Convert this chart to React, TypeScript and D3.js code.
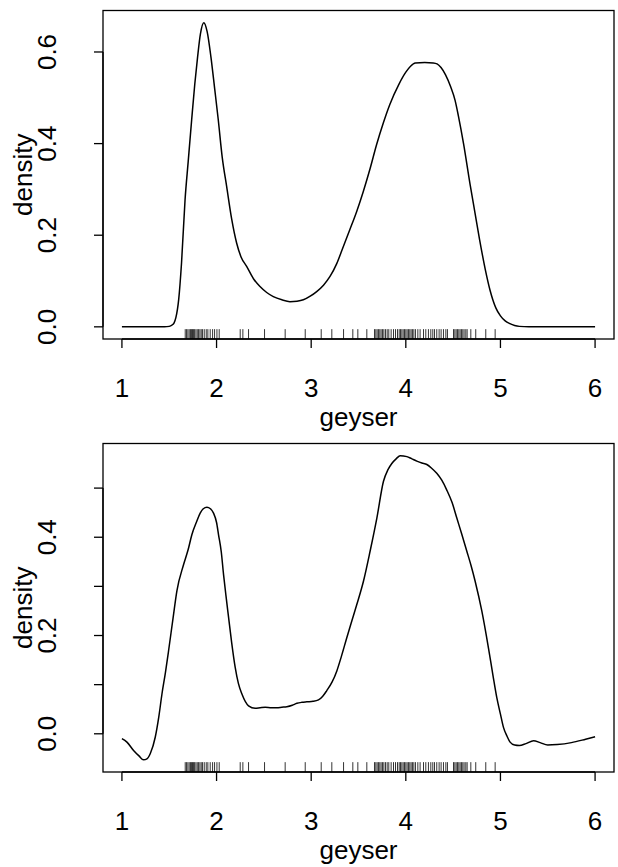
import React from "react";
import * as d3 from "d3";

// ---- data ----
const topX = [1.0, 1.3, 1.45, 1.5, 1.53, 1.55, 1.57, 1.6, 1.63, 1.667, 1.7, 1.737, 1.77, 1.8, 1.83, 1.865, 1.9, 1.94, 1.98, 2.018, 2.06, 2.107, 2.16, 2.212, 2.26, 2.318, 2.39, 2.459, 2.53, 2.6, 2.69, 2.776, 2.85, 2.917, 2.99, 3.058, 3.13, 3.199, 3.27, 3.339, 3.41, 3.481, 3.55, 3.622, 3.69, 3.762, 3.83, 3.928, 4.0, 4.05, 4.1, 4.2, 4.29, 4.33, 4.372, 4.42, 4.474, 4.52, 4.557, 4.61, 4.68, 4.73, 4.78, 4.84, 4.89, 4.95, 5.0, 5.05, 5.1, 5.15, 5.2, 5.3, 5.5, 6.0];
const topY = [0.0, 0.0, 0.0, 0.001, 0.004, 0.008, 0.02, 0.06, 0.14, 0.277, 0.36, 0.452, 0.53, 0.59, 0.64, 0.664, 0.645, 0.59, 0.52, 0.452, 0.37, 0.306, 0.235, 0.183, 0.152, 0.132, 0.105, 0.088, 0.075, 0.066, 0.059, 0.055, 0.056, 0.059, 0.067, 0.077, 0.091, 0.11, 0.138, 0.175, 0.213, 0.252, 0.295, 0.345, 0.397, 0.445, 0.485, 0.53, 0.556, 0.569, 0.576, 0.577, 0.576, 0.574, 0.566, 0.55, 0.524, 0.495, 0.459, 0.4, 0.31, 0.25, 0.19, 0.125, 0.08, 0.042, 0.024, 0.013, 0.007, 0.003, 0.001, 0.0, 0.0, 0.0];

const botX = [1.0, 1.053, 1.123, 1.18, 1.229, 1.264, 1.3, 1.352, 1.39, 1.423, 1.46, 1.493, 1.54, 1.581, 1.651, 1.7, 1.739, 1.79, 1.827, 1.86, 1.898, 1.935, 1.968, 2.0, 2.021, 2.05, 2.074, 2.1, 2.127, 2.16, 2.197, 2.23, 2.268, 2.338, 2.408, 2.46, 2.514, 2.58, 2.637, 2.69, 2.743, 2.8, 2.849, 2.9, 2.954, 3.02, 3.077, 3.12, 3.165, 3.22, 3.271, 3.32, 3.377, 3.43, 3.482, 3.553, 3.623, 3.694, 3.764, 3.81, 3.852, 3.9, 3.94, 4.011, 4.06, 4.116, 4.17, 4.222, 4.27, 4.327, 4.38, 4.433, 4.49, 4.539, 4.59, 4.644, 4.69, 4.732, 4.803, 4.873, 4.92, 4.961, 5.0, 5.032, 5.07, 5.102, 5.15, 5.2, 5.27, 5.35, 5.42, 5.5, 5.6, 5.75, 5.9, 6.0];
const botY = [-0.01, -0.017, -0.034, -0.045, -0.053, -0.051, -0.04, -0.007, 0.035, 0.081, 0.125, 0.169, 0.235, 0.291, 0.344, 0.375, 0.405, 0.432, 0.449, 0.458, 0.461, 0.458, 0.449, 0.43, 0.405, 0.37, 0.324, 0.28, 0.237, 0.185, 0.135, 0.103, 0.081, 0.057, 0.052, 0.053, 0.054, 0.053, 0.053, 0.054, 0.055, 0.058, 0.062, 0.064, 0.065, 0.066, 0.069, 0.076, 0.088, 0.105, 0.128, 0.158, 0.196, 0.23, 0.263, 0.311, 0.372, 0.439, 0.514, 0.537, 0.55, 0.56, 0.566, 0.564, 0.56, 0.555, 0.551, 0.548, 0.541, 0.53, 0.516, 0.496, 0.47, 0.439, 0.407, 0.372, 0.342, 0.311, 0.25, 0.175, 0.12, 0.074, 0.04, 0.013, -0.005, -0.017, -0.023, -0.024, -0.02, -0.014, -0.018, -0.023, -0.022, -0.018, -0.011, -0.006];

const rug = [1.669, 1.683, 1.697, 1.711, 1.725, 1.736, 1.746, 1.757, 1.768, 1.782, 1.796, 1.81, 1.824, 1.838, 1.852, 1.87, 1.891, 1.908, 1.933, 1.958, 1.979, 2.004, 2.028, 2.25, 2.278, 2.338, 2.507, 2.725, 2.937, 3.106, 3.218, 3.342, 3.44, 3.493, 3.588, 3.669, 3.683, 3.697, 3.711, 3.725, 3.739, 3.754, 3.768, 3.785, 3.803, 3.82, 3.845, 3.87, 3.891, 3.912, 3.93, 3.944, 3.958, 3.972, 3.986, 4.0, 4.014, 4.028, 4.042, 4.056, 4.07, 4.085, 4.102, 4.127, 4.151, 4.187, 4.211, 4.239, 4.264, 4.285, 4.303, 4.327, 4.352, 4.373, 4.398, 4.423, 4.44, 4.504, 4.518, 4.532, 4.546, 4.56, 4.574, 4.588, 4.602, 4.616, 4.634, 4.648, 4.687, 4.739, 4.845, 4.944];

const xTicks = [1, 2, 3, 4, 5, 6];
const topYTicks = [0.0, 0.2, 0.4, 0.6];
const topYLabels = ["0.0", "0.2", "0.4", "0.6"];
const botYTicks = [0.0, 0.1, 0.2, 0.3, 0.4, 0.5];
const botYLabels = ["0.0", "", "0.2", "", "0.4", ""];
const xLabel = "geyser";
const yLabel = "density";

const W = 618;
const H = 867;
const FONT = "'Liberation Sans', Arial, Helvetica, sans-serif";
const FS = 26;

type PanelProps = {
  xs: number[];
  ys: number[];
  top: number;
  yTicks: number[];
  yLabels: string[];
};

function Panel({ xs, ys, top, yTicks, yLabels }: PanelProps) {
  const left = 103;
  const right = 614;
  const boxTop = top + 10.5;
  const boxBottom = top + 339;
  const xr = d3.extent(xs) as [number, number];
  const xpad = (xr[1] - xr[0]) * 0.04;
  const x = d3.scaleLinear().domain([xr[0] - xpad, xr[1] + xpad]).range([left, right]);
  const yr = d3.extent(ys) as [number, number];
  const ypad = (yr[1] - yr[0]) * 0.04;
  const y = d3.scaleLinear().domain([yr[0] - ypad, yr[1] + ypad]).range([boxBottom, boxTop]);
  const pts: [number, number][] = xs.map((v, i) => [v, ys[i]]);
  const line = d3
    .line<[number, number]>()
    .x((d) => x(d[0]))
    .y((d) => y(d[1]))
    .curve(d3.curveMonotoneX);
  const tick = 9;
  const rugLen = (boxBottom - boxTop) * 0.03;
  const cy = (boxTop + boxBottom) / 2;
  return (
    <g>
      <rect x={left} y={boxTop} width={right - left} height={boxBottom - boxTop} fill="none" stroke="#000" strokeWidth={1.3} />
      <path d={line(pts) || ""} fill="none" stroke="#000" strokeWidth={1.5} />
      {rug.map((r, i) => (
        <line key={"r" + i} x1={x(r)} x2={x(r)} y1={boxBottom} y2={boxBottom - rugLen} stroke="#000" strokeWidth={0.8} />
      ))}
      <line x1={x(xTicks[0])} x2={x(xTicks[xTicks.length - 1])} y1={boxBottom} y2={boxBottom} stroke="#000" strokeWidth={1.3} />
      {xTicks.map((t) => (
        <g key={"x" + t}>
          <line x1={x(t)} x2={x(t)} y1={boxBottom} y2={boxBottom + tick} stroke="#000" strokeWidth={1.3} />
          <text x={x(t)} y={boxBottom + 58} textAnchor="middle" fontFamily={FONT} fontSize={FS}>
            {String(t)}
          </text>
        </g>
      ))}
      <text x={(left + right) / 2} y={boxBottom + 87} textAnchor="middle" fontFamily={FONT} fontSize={FS}>
        {xLabel}
      </text>
      <line x1={left} x2={left} y1={y(yTicks[0])} y2={y(yTicks[yTicks.length - 1])} stroke="#000" strokeWidth={1.3} />
      {yTicks.map((t, i) => (
        <g key={"y" + i}>
          <line x1={left} x2={left - tick} y1={y(t)} y2={y(t)} stroke="#000" strokeWidth={1.3} />
          {yLabels[i] ? (
            <text
              transform={`translate(${56},${y(t)}) rotate(-90)`}
              textAnchor="middle"
              fontFamily={FONT}
              fontSize={FS}
            >
              {yLabels[i]}
            </text>
          ) : null}
        </g>
      ))}
      <text transform={`translate(${32},${cy}) rotate(-90)`} textAnchor="middle" fontFamily={FONT} fontSize={FS}>
        {yLabel}
      </text>
    </g>
  );
}

export default function App() {
  return (
    <svg
      width={W}
      height={H}
      viewBox={`0 0 ${W} ${H}`}
      style={{ position: "absolute", left: 0, top: 0, background: "#fff" }}
    >
      <rect x={0} y={0} width={W} height={H} fill="#fff" />
      <Panel xs={topX} ys={topY} top={0} yTicks={topYTicks} yLabels={topYLabels} />
      <Panel xs={botX} ys={botY} top={433} yTicks={botYTicks} yLabels={botYLabels} />
    </svg>
  );
}
